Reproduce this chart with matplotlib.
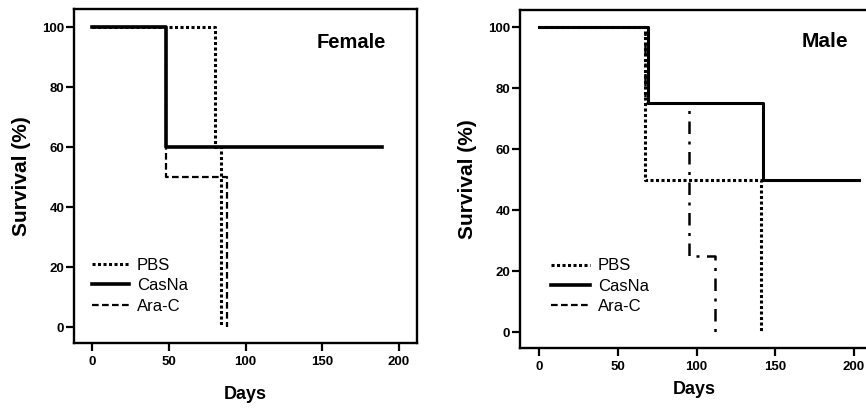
import matplotlib
matplotlib.use("Agg")
from matplotlib import pyplot as plt
from matplotlib.lines import Line2D

plt.rcParams['font.family'] = ['Liberation Sans', 'DejaVu Sans']

# survival steps (days, % surviving)
female_pbs_days = [0, 80, 84]
female_pbs_surv = [100, 60, 0]
female_casna_days = [0, 48, 189]
female_casna_surv = [100, 60, 60]
female_arac_days = [0, 48, 88]
female_arac_surv = [100, 50, 0]

male_pbs_days = [0, 67, 141]
male_pbs_surv = [100, 50, 0]
male_casna_days = [0, 69, 142, 203]
male_casna_surv = [100, 75, 50, 50]
male_arac_days = [0, 67, 95, 112]
male_arac_surv = [100, 75, 25, 0]

labels = ['PBS', 'CasNa', 'Ara-C']
x_ticks = [0, 50, 100, 150, 200]
y_ticks = [0, 20, 40, 60, 80, 100]

dotted = (0, (1, 0.8))
dashed = (0, (3, 1.5))
dashdot = (0, (5, 3, 1.2, 3))


# common axis styling for both panels
def style_axes(ax, xlim, ylim, xpad):
    ax.set_xlim(*xlim)
    ax.set_ylim(*ylim)
    ax.set_xticks(x_ticks)
    ax.set_yticks(y_ticks)
    for s in ax.spines.values():
        s.set_linewidth(1.7)
    ax.tick_params(direction='out', length=6, width=1.6)
    ax.tick_params(axis='x', pad=3)
    ax.tick_params(axis='y', pad=1)
    for t in ax.get_xticklabels() + ax.get_yticklabels():
        t.set_fontweight('bold')
        t.set_fontsize(9.5)
    ax.set_xlabel('Days', fontsize=13, fontweight='bold', labelpad=xpad)
    ax.set_ylabel('Survival (%)', fontsize=15, fontweight='bold', labelpad=8)


def legend_handles():
    return [Line2D([], [], color='black', lw=2.2, linestyle=dotted),
            Line2D([], [], color='black', lw=2.6),
            Line2D([], [], color='black', lw=1.6, linestyle=dashed)]


fig = plt.figure(figsize=(8.66, 4.09), dpi=100)

# female panel
ax1 = fig.add_axes([0.0855, 0.161, 0.396, 0.817])
ax1.step(female_pbs_days, female_pbs_surv, where='post', color='black', lw=2.2, linestyle=dotted)
ax1.step(female_arac_days, female_arac_surv, where='post', color='black', lw=1.6, linestyle=dashed)
ax1.step(female_casna_days, female_casna_surv, where='post', color='black', lw=2.6)
style_axes(ax1, (-11.7, 211.7), (-5.3, 106), 13)
ax1.text(169, 94.7, 'Female', fontsize=14.5, fontweight='bold', ha='center', va='center')
ax1.legend(legend_handles(), labels, loc='upper left', bbox_to_anchor=(0.052, 0.255),
           frameon=False, fontsize=12, handlelength=2.2, handletextpad=0.5,
           labelspacing=0.32, borderpad=0, borderaxespad=0)

# male panel
ax2 = fig.add_axes([0.6005, 0.149, 0.402, 0.8266])
ax2.step(male_pbs_days, male_pbs_surv, where='post', color='black', lw=2.2, linestyle=dotted)
ax2.step(male_arac_days, male_arac_surv, where='post', color='black', lw=1.8, linestyle=dashdot)
ax2.step(male_casna_days, male_casna_surv, where='post', color='black', lw=2.2)
style_axes(ax2, (-12.1, 209), (-5.2, 105.6), 6)
ax2.text(181.5, 95.4, 'Male', fontsize=15, fontweight='bold', ha='center', va='center')
ax2.legend(legend_handles(), labels, loc='upper left', bbox_to_anchor=(0.09, 0.265),
           frameon=False, fontsize=12, handlelength=2.3, handletextpad=0.5,
           labelspacing=0.32, borderpad=0, borderaxespad=0)

fig.savefig('out.png', dpi=100)
